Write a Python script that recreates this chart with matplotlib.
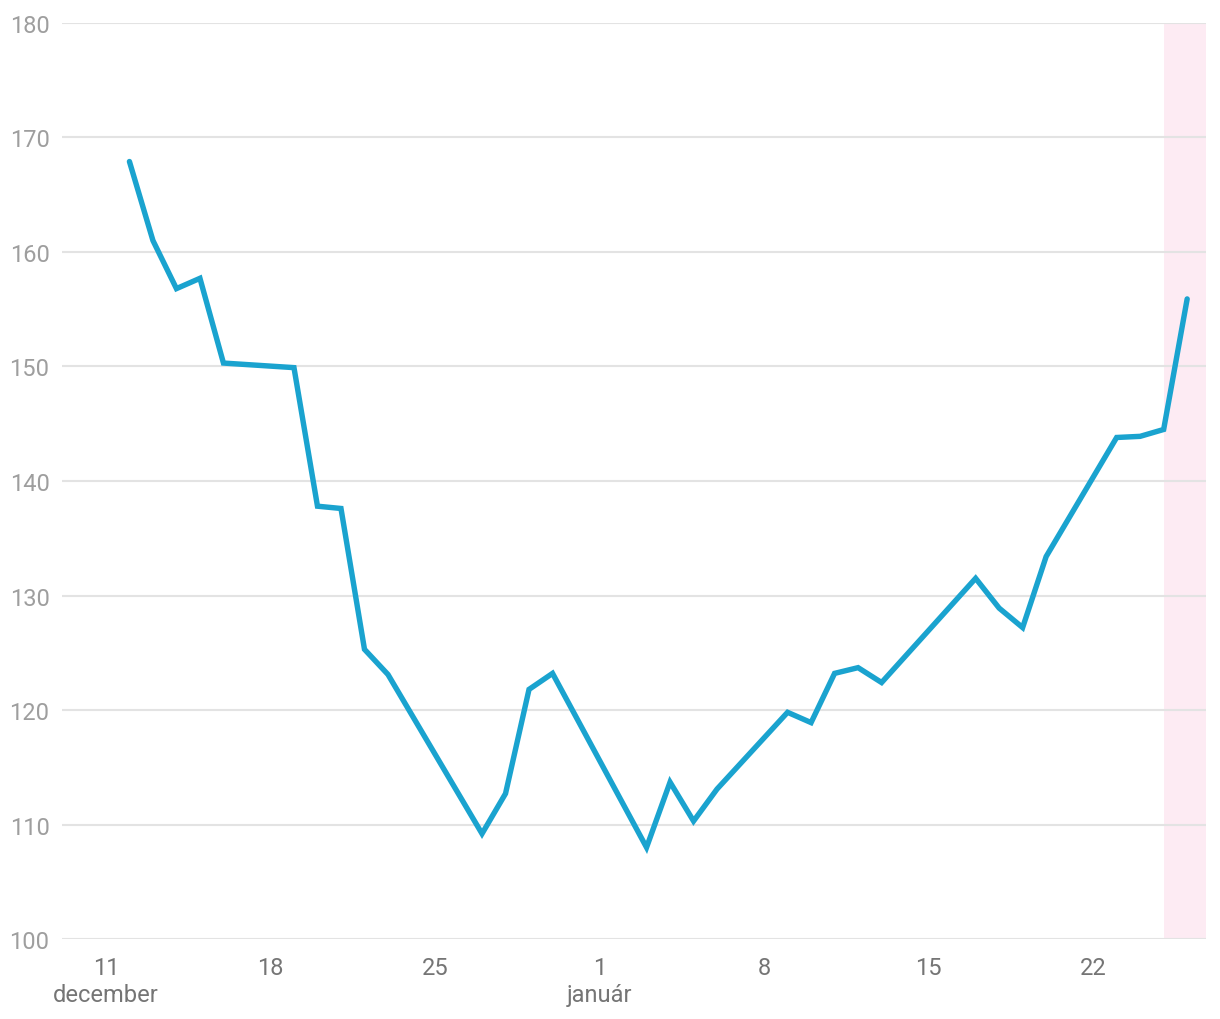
import numpy as np
import pandas as pd
import matplotlib
matplotlib.use("Agg")
import matplotlib.pyplot as plt
import matplotlib.dates as mdates

plt.rcParams['font.family'] = ['Roboto', 'DejaVu Sans']

# napi értékek (csak a látható töréspontok)
dates = ["2023-12-12", "2023-12-13", "2023-12-14", "2023-12-15", "2023-12-16",
         "2023-12-19", "2023-12-20", "2023-12-21", "2023-12-22", "2023-12-23",
         "2023-12-27", "2023-12-28", "2023-12-29", "2023-12-30",
         "2024-01-03", "2024-01-04", "2024-01-05", "2024-01-06",
         "2024-01-09", "2024-01-10", "2024-01-11", "2024-01-12", "2024-01-13",
         "2024-01-17", "2024-01-18", "2024-01-19", "2024-01-20",
         "2024-01-23", "2024-01-24", "2024-01-25", "2024-01-26"]
values = [167.9, 161.0, 156.8, 157.7, 150.3,
          149.9, 137.8, 137.6, 125.3, 123.1,
          109.2, 112.7, 121.8, 123.2,
          108.0, 113.7, 110.3, 113.1,
          119.8, 118.9, 123.2, 123.7, 122.4,
          131.5, 128.9, 127.2, 133.4,
          143.8, 143.9, 144.5, 155.9]

tick_dates = ["2023-12-11", "2023-12-18", "2023-12-25", "2024-01-01",
              "2024-01-08", "2024-01-15", "2024-01-22"]
tick_labels = ["11\ndecember", "18", "25", "1\njanuár", "8", "15", "22"]
y_ticks = [100, 110, 120, 130, 140, 150, 160, 170, 180]

shade_start = "2024-01-25"

x = pd.to_datetime(dates)
base = pd.Timestamp("2023-12-11")

fig = plt.figure(figsize=(12.2, 10.2), dpi=100)
ax = fig.add_axes([0.0508, 0.0784, 0.9377, 0.8981])

x0 = mdates.date2num(base) - 1.87
x1 = mdates.date2num(base) + 46.8
ax.axvspan(mdates.date2num(pd.Timestamp(shade_start)), x1, color='#fdebf3', lw=0, zorder=0)

ax.plot(x, values, color='#1aa3cf', lw=3.9, solid_capstyle='round',
        solid_joinstyle='miter', zorder=3)

ax.set_xlim(x0, x1)
ax.set_ylim(100, 180)
ax.set_yticks(y_ticks)
ax.set_xticks(mdates.date2num(pd.to_datetime(tick_dates)))
ax.set_xticklabels(tick_labels, linespacing=1.25, va='top')

ax.grid(axis='y', color='#e3e3e3', lw=1.5)
ax.set_axisbelow(True)
for s in ax.spines.values():
    s.set_visible(False)
ax.tick_params(axis='y', length=0, pad=9, labelsize=17, labelcolor='#9e9e9e')
ax.tick_params(axis='x', length=0, pad=12, labelsize=17, labelcolor='#757575')

fig.savefig("out.png", dpi=100)
